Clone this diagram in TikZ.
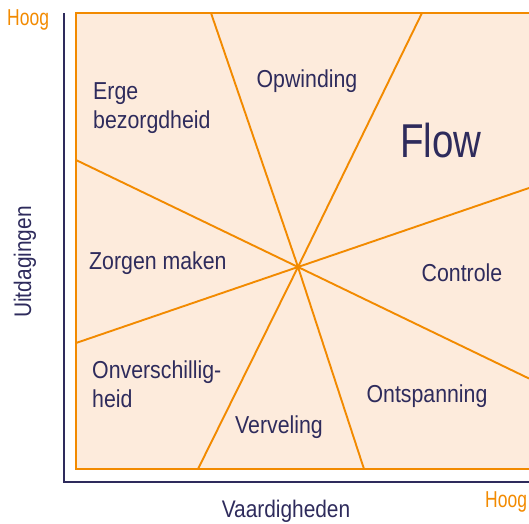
\documentclass[tikz,border=0pt]{standalone}
\usepackage{fontspec}
\newfontfamily\lblfont[FakeStretch=0.87]{Liberation Sans}
\newfontfamily\hoogfont[FakeStretch=0.76]{Liberation Sans}
\newfontfamily\flowfont[FakeStretch=0.81]{Liberation Sans}
\definecolor{zoneorange}{HTML}{F28A00}
\definecolor{zonefill}{HTML}{FDEBDC}
\definecolor{inkblue}{HTML}{2E2B5C}
\tikzset{
  zone/.style={inner sep=0pt, text=inkblue, font=\lblfont\fontsize{24.5}{28.5}\selectfont},
  axislabel/.style={inner sep=0pt, text=inkblue, font=\lblfont\fontsize{24}{28}\selectfont},
  endlabel/.style={inner sep=0pt, text=zoneorange, font=\hoogfont\fontsize{23}{26}\selectfont},
  divider/.style={draw=zoneorange, line width=1.9pt},
  axisline/.style={draw=inkblue, line width=1.6pt}
}
\begin{document}
\begin{tikzpicture}[x=1pt,y=-1pt]
\useasboundingbox (0,0) rectangle (529,523);
\begin{scope}
\clip (0,0) rectangle (529,523);
% field
\path[fill=zonefill, draw=zoneorange, line width=1.9pt] (76,13) rectangle (545,469);
% common crossing point and ends of the four dividers
\coordinate (c) at (298,267);
\coordinate (t1) at (211,13);  \coordinate (b1) at (364,469);
\coordinate (t2) at (422,13);  \coordinate (b2) at (198,469);
\coordinate (l1) at (76,160);  \coordinate (r1) at (529,378.5);
\coordinate (l2) at (76,343);  \coordinate (r2) at (529,188);
\draw[divider] (t1) -- (c) -- (b1);
\draw[divider] (t2) -- (c) -- (b2);
\draw[divider] (l1) -- (c) -- (r1);
\draw[divider] (l2) -- (c) -- (r2);
% axes
\coordinate (ytop) at (64,13);
\coordinate (orig) at (64,482);
\coordinate (xend) at (535,482);
\draw[axisline] (ytop) -- (orig) -- (xend);
\end{scope}
% zone labels (base of a two-line node is its last line)
\node[zone, anchor=base west, align=left] (erge) at (93,128) {Erge\\bezorgdheid};
\node[zone, anchor=base] (opw) at (307,87) {Opwinding};
\node[inner sep=0pt, text=inkblue, font=\flowfont\fontsize{47.5}{50}\selectfont, anchor=base west] (flow) at (400,157) {Flow};
\node[zone, anchor=base west] (zorg) at (89,269) {Zorgen maken};
\node[zone, anchor=base] (contr) at (462,281) {Controle};
\node[zone, anchor=base west, align=left] (onv) at (92,407) {Onverschillig-\\heid};
\node[zone, anchor=base] (verv) at (279,433) {Verveling};
\node[zone, anchor=base] (onts) at (427,402) {Ontspanning};
% axis labels
\node[axislabel, anchor=base, rotate=90] (uit) at (31,262) {Uitdagingen};
\node[axislabel, anchor=base] (vaard) at (286,517) {Vaardigheden};
\node[endlabel, anchor=base west] (hoogy) at (7,25) {Hoog};
\node[endlabel, anchor=base west] (hoogx) at (485,507) {Hoog};
\end{tikzpicture}
\end{document}
